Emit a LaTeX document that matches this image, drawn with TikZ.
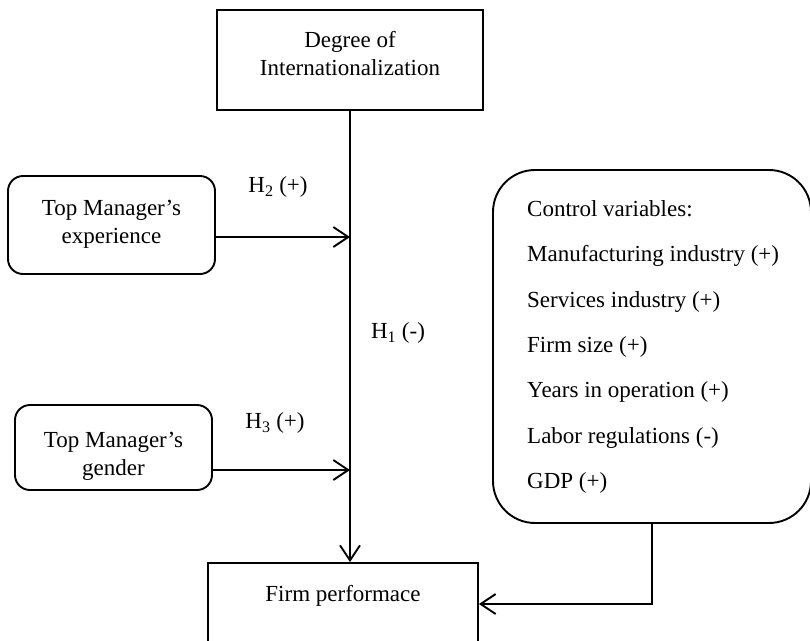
\documentclass[tikz,border=0pt]{standalone}
\usepackage{fontspec}
\setmainfont{Liberation Serif}
\usetikzlibrary{arrows.meta}
\begin{document}
\begin{tikzpicture}[x=1pt,y=-1pt,
  every node/.style={font=\fontsize{23}{28}\selectfont},
  plainbox/.style={draw, line width=1.9pt, inner sep=0pt},
  softbox/.style={draw, line width=1.9pt, rounded corners=15pt, inner sep=0pt},
  bigsoft/.style={draw, line width=1.9pt, rounded corners=42pt, inner sep=0pt},
  txt/.style={inner sep=0pt, align=center},
  link/.style={line width=1.9pt, -{Straight Barb[length=15pt,width=20pt,line width=1.9pt]}}]
\useasboundingbox (0,0) rectangle (810,640);
\clip (0,0) rectangle (810,640);

% boxes
\node[plainbox, minimum width=266pt, minimum height=100pt] (deg) at (350,60) {};
\node[txt] (degtxt) at (350,54) {Degree of\\Internationalization};

\node[plainbox, minimum width=270pt, minimum height=82pt] (firm) at (343,604) {};
\node[txt] (firmtxt) at (343,596) {Firm performace};

\node[softbox, minimum width=207pt, minimum height=98pt] (exp) at (111.5,225) {};
\node[txt] (exptxt) at (111.5,224) {Top Manager’s\\experience};

\node[softbox, minimum width=197pt, minimum height=85pt] (gen) at (113.5,447.5) {};
\node[txt] (gentxt) at (113.5,456) {Top Manager’s\\gender};

\node[bigsoft, minimum width=318pt, minimum height=353pt] (ctrl) at (652,346.5) {};
\node[inner sep=0pt, align=left, anchor=west,
      font=\fontsize{23}{45.3}\selectfont] (ctrltxt) at (527,347) {Control variables:\\
Manufacturing industry (+)\\
Services industry (+)\\
Firm size (+)\\
Years in operation (+)\\
Labor regulations (-)\\
GDP (+)};

% connectors
\coordinate (expout) at ([yshift=-12pt]exp.east);
\coordinate (genout) at ([yshift=-22.5pt]gen.east);
\draw[link] (deg.south) -- (deg.south |- firm.north);
\draw[link] (expout) -- (expout -| deg.south);
\draw[link] (genout) -- (genout -| deg.south);
\draw[link] (ctrl.south) |- (firm.east);

% hypothesis labels
\node[txt] (h2) at (278,187) {H\textsubscript{2} (+)};
\node[txt] (h3) at (275,423) {H\textsubscript{3} (+)};
\node[txt] (h1) at (398,333) {H\textsubscript{1} (-)};
\end{tikzpicture}
\end{document}
